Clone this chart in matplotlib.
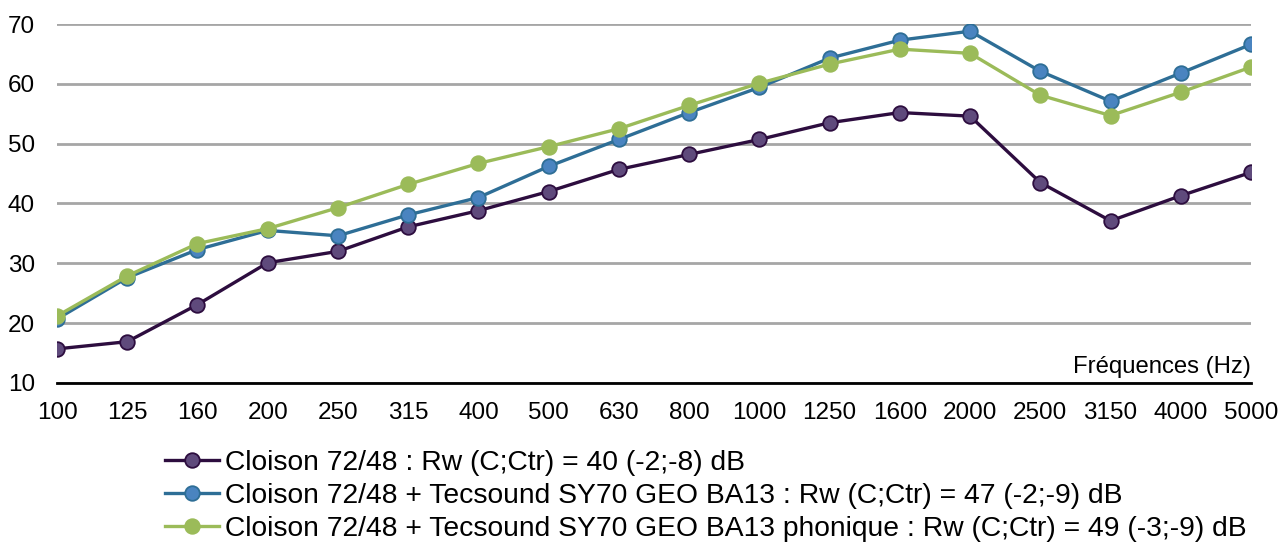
import matplotlib
matplotlib.use("Agg")
from matplotlib import pyplot as plt
import numpy as np

plt.rcParams['font.family'] = ['Liberation Sans', 'DejaVu Sans']

# Fréquences (Hz)
freqs = ['100', '125', '160', '200', '250', '315', '400', '500', '630', '800',
         '1000', '1250', '1600', '2000', '2500', '3150', '4000', '5000']

# Indices d'affaiblissement (dB)
cloison = [15.7, 16.9, 23.1, 30.1, 32.0, 36.1, 38.8, 42.0, 45.7, 48.2,
           50.7, 53.5, 55.2, 54.6, 43.5, 37.1, 41.3, 45.2]
tecsound = [20.7, 27.6, 32.3, 35.5, 34.6, 38.1, 41.0, 46.2, 50.7, 55.2,
            59.4, 64.3, 67.3, 68.8, 62.1, 57.1, 61.8, 66.6]
phonique = [21.2, 27.9, 33.3, 35.8, 39.3, 43.2, 46.7, 49.5, 52.5, 56.4,
            60.1, 63.3, 65.8, 65.1, 58.1, 54.7, 58.6, 62.8]

labels = ['Cloison 72/48 : Rw (C;Ctr) = 40 (-2;-8) dB',
          'Cloison 72/48 + Tecsound SY70 GEO BA13 : Rw (C;Ctr) = 47 (-2;-9) dB',
          'Cloison 72/48 + Tecsound SY70 GEO BA13 phonique : Rw (C;Ctr) = 49 (-3;-9) dB']

fig = plt.figure(figsize=(12.81, 5.42), dpi=100)
ax = fig.add_axes([0.0445, 0.2934, 0.9321, 0.6623])

x = np.arange(len(freqs))
# couleurs : ligne, remplissage des marqueurs
ax.plot(x, cloison, color='#2d0d3f', lw=2.4, marker='o', ms=10.5,
        mfc='#5f4a7c', mec='#2d0d3f', mew=1.3, label=labels[0], zorder=3)
ax.plot(x, tecsound, color='#2e6e96', lw=2.4, marker='o', ms=10.5,
        mfc='#4a84c0', mec='#2e6e96', mew=1.3, label=labels[1], zorder=4)
ax.plot(x, phonique, color='#9bbb59', lw=2.4, marker='o', ms=10.5,
        mfc='#9bbb59', mec='#9bbb59', mew=1.3, label=labels[2], zorder=5)

ax.set_xlim(0, len(freqs) - 1)
ax.set_ylim(10, 70)
ax.set_yticks(range(10, 71, 10))
ax.set_xticks(x)
ax.set_xticklabels(freqs)
ax.tick_params(axis='both', length=0, labelsize=17.5)
ax.tick_params(axis='x', pad=14)
ax.tick_params(axis='y', pad=16)

ax.yaxis.grid(True, color='#a6a6a6', lw=2)
ax.set_axisbelow(True)
for s in ['top', 'right', 'left']:
    ax.spines[s].set_visible(False)
ax.spines['bottom'].set_linewidth(2)
ax.spines['bottom'].set_zorder(6)

ax.text(1.0, 0.015, 'Fréquences (Hz)', transform=ax.transAxes,
        ha='right', va='bottom', fontsize=17.2)

ax.legend(loc='upper left', bbox_to_anchor=(165 / 1281, 1 - 450 / 542),
          bbox_transform=fig.transFigure,
          frameon=False, fontsize=20.3, handlelength=1.9, handletextpad=0.22,
          labelspacing=0.24, borderaxespad=0, borderpad=0)

fig.savefig('out.png', dpi=100)
